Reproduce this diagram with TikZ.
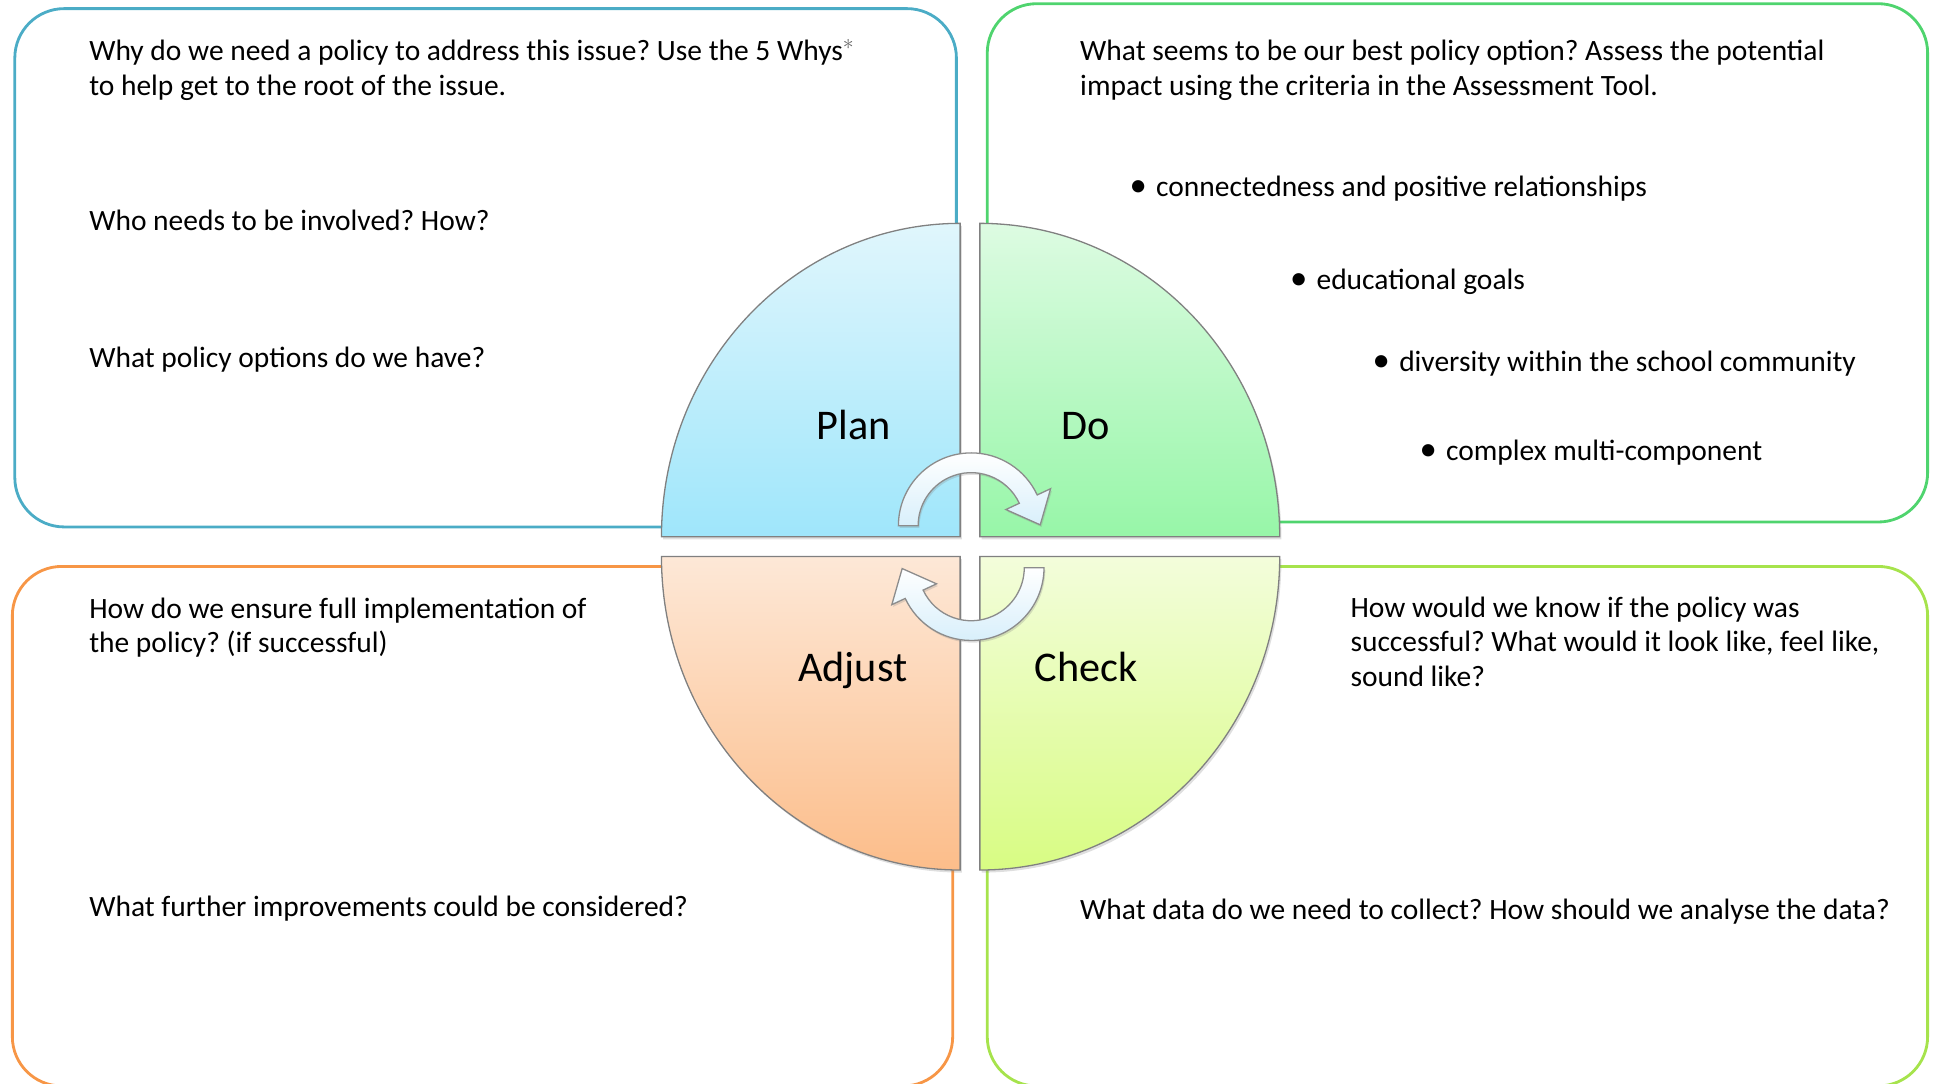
\documentclass[tikz,border=0pt]{standalone}
\usepackage{fontspec}
\setmainfont{Carlito}
\usetikzlibrary{calc,shadows}
\frenchspacing

\definecolor{boxblue}{HTML}{4BACC6}
\definecolor{boxgreen}{HTML}{4FD46E}
\definecolor{boxorange}{HTML}{F79646}
\definecolor{boxlime}{HTML}{A6E34C}
\definecolor{plantop}{HTML}{E0F6FC}
\definecolor{planbot}{HTML}{9FE6FB}
\definecolor{dotop}{HTML}{DDFBE2}
\definecolor{dobot}{HTML}{97F6A8}
\definecolor{adjtop}{HTML}{FDE8D7}
\definecolor{adjbot}{HTML}{FCBD8A}
\definecolor{chktop}{HTML}{F3FDDB}
\definecolor{chkbot}{HTML}{D8FC83}
\definecolor{arrowblue}{HTML}{D8EFFB}

\tikzset{
  box/.style={line width=1.3pt, rounded corners=0.8cm},
  quad/.style={draw=black!50, line width=0.6pt,
    drop shadow={shadow xshift=0.8pt, shadow yshift=-1.2pt, opacity=0.25}},
  cyc/.style={draw=black!45, line width=0.6pt, top color=white, bottom color=arrowblue,
    drop shadow={shadow xshift=0.6pt, shadow yshift=-1pt, opacity=0.25}},
  txt/.style={font=\fontsize{13.6}{15.9}\selectfont, anchor=base west, inner sep=0pt, align=left},
  lbl/.style={font=\fontsize{19.5}{22}\selectfont, anchor=base, inner sep=0pt},
}
\newcommand{\critbullet}{\makebox[0.43cm][l]{\fontsize{16}{16}\selectfont\textbullet}}

\begin{document}
\begin{tikzpicture}[x=0.02cm, y=-0.02cm]
    \useasboundingbox (0,0) rectangle (1568,878);
    % Draw the four boxes
    \foreach \x/\y/\X/\Y/\c in {12/7/775/427/boxblue, 800/3/1562/423/boxgreen,
                                10/459/772/880/boxorange, 800/459/1562/880/boxlime}{
      \draw[box,\c] (\x,\y) rectangle (\X,\Y);
    }
    % Draw the four quarters of the wheel
    \draw[quad, top color=plantop, bottom color=planbot]
      (778,435) -- (536,435) arc[start angle=180, end angle=270, x radius=242, y radius=254] -- cycle;
    \draw[quad, top color=dotop, bottom color=dobot]
      (794,435) -- (794,181) arc[start angle=270, end angle=360, x radius=243, y radius=254] -- cycle;
    \draw[quad, top color=adjtop, bottom color=adjbot]
      (778,451) -- (778,705) arc[start angle=90, end angle=180, x radius=242, y radius=254] -- cycle;
    \draw[quad, top color=chktop, bottom color=chkbot]
      (794,451) -- (1037,451) arc[start angle=0, end angle=90, x radius=243, y radius=254] -- cycle;
    % Draw the two curved arrows
    \foreach \r in {0,180}{
      \begin{scope}[rotate around={\r:(787,443)}]
        \coordinate (C) at (787,426);
        \draw[cyc] ($(C)+(-180:43)$) -- ($(C)+(-180:59)$)
          arc[start angle=-180, end angle=-25, radius=59]
          -- ($(C)+(-25:71)$) -- ($(C)+(-25:51)+(65:23)$) -- ($(C)+(-25:31)$)
          -- ($(C)+(-25:43)$) arc[start angle=-25, end angle=-180, radius=43] -- cycle;
      \end{scope}
    }
    % Label the quarters
    \node[lbl] (plan) at (692,356) {Plan};
    \node[lbl] (do) at (880,356) {Do};
    \node[lbl] (adjust) at (691,552) {Adjust};
    \node[lbl] (check) at (880,552) {Check};
    % Questions for Plan
    \node[txt] (why) at (72,77) {Why do we need a policy to address this issue? Use the 5 Whys{\color{black!60}$^{\ast}$}\\to help get to the root of the issue.};
    \node[txt] (who) at (72,187) {Who needs to be involved? How?};
    \node[txt] (options) at (72,298) {What policy options do we have?};
    % Questions for Do
    \node[txt] (best) at (875,77) {What seems to be our best policy option? Assess the potential\\impact using the criteria in the Assessment Tool.};
    \node[txt] (crit1) at (915,159) {\critbullet connectedness and positive relationships};
    \node[txt] (crit2) at (1045,235) {\critbullet educational goals};
    \node[txt] (crit3) at (1112,301) {\critbullet diversity within the school community};
    \node[txt] (crit4) at (1150,373) {\critbullet complex multi-component};
    % Questions for Adjust
    \node[txt] (ensure) at (72,529) {How do we ensure full implementation of\\the policy? (if successful)};
    \node[txt] (further) at (72,743) {What further improvements could be considered?};
    % Questions for Check
    \node[txt] (know) at (1094,556) {How would we know if the policy was\\successful? What would it look like, feel like,\\sound like?};
    \node[txt] (data) at (875,745) {What data do we need to collect? How should we analyse the data?};
\end{tikzpicture}
\end{document}
